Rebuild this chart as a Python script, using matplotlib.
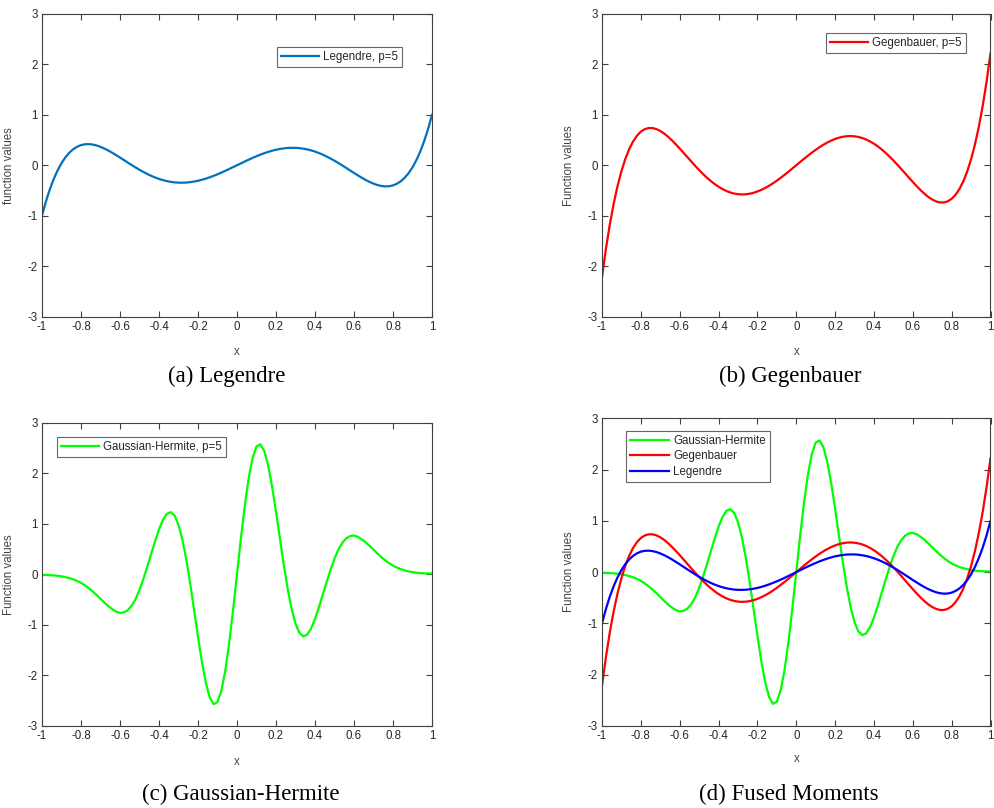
import numpy as np
import matplotlib
matplotlib.use("Agg")
import matplotlib.pyplot as plt

# ---------------- data ----------------
x_values = np.round(np.linspace(-1.0, 1.0, 101), 2)

legendre = [
    -1.0, -0.720, -0.480, -0.274, -0.102, 0.041, 0.157, 0.248, 0.318, 0.367,
    0.400, 0.416, 0.419, 0.411, 0.392, 0.365, 0.331, 0.292, 0.248, 0.201,
    0.153, 0.103, 0.053, 0.004, -0.044, -0.090, -0.133, -0.173, -0.210, -0.242,
    -0.271, -0.295, -0.314, -0.329, -0.340, -0.345, -0.346, -0.343, -0.335, -0.323,
    -0.308, -0.288, -0.265, -0.239, -0.210, -0.179, -0.146, -0.111, -0.074, -0.037,
    0.0,
    0.037, 0.074, 0.111, 0.146, 0.179, 0.210, 0.239, 0.265, 0.288, 0.308,
    0.323, 0.335, 0.343, 0.346, 0.345, 0.340, 0.329, 0.314, 0.295, 0.271,
    0.242, 0.210, 0.173, 0.133, 0.090, 0.044, -0.004, -0.053, -0.103, -0.153,
    -0.201, -0.248, -0.292, -0.331, -0.365, -0.392, -0.411, -0.419, -0.416, -0.400,
    -0.367, -0.318, -0.248, -0.157, -0.041, 0.102, 0.274, 0.480, 0.720, 1.0,
]

gegenbauer = [
    -2.220, -1.663, -1.179, -0.765, -0.413, -0.118, 0.125, 0.320, 0.472, 0.586,
    0.666, 0.715, 0.738, 0.738, 0.717, 0.680, 0.629, 0.566, 0.494, 0.415,
    0.332, 0.246, 0.159, 0.072, -0.013, -0.095, -0.173, -0.246, -0.313, -0.373,
    -0.427, -0.472, -0.510, -0.540, -0.561, -0.574, -0.579, -0.576, -0.565, -0.547,
    -0.521, -0.489, -0.451, -0.408, -0.359, -0.306, -0.249, -0.190, -0.128, -0.064,
    0.0,
    0.064, 0.128, 0.190, 0.249, 0.306, 0.359, 0.408, 0.451, 0.489, 0.521,
    0.547, 0.565, 0.576, 0.579, 0.574, 0.561, 0.540, 0.510, 0.472, 0.427,
    0.373, 0.313, 0.246, 0.173, 0.095, 0.013, -0.072, -0.159, -0.246, -0.332,
    -0.415, -0.494, -0.566, -0.629, -0.680, -0.717, -0.738, -0.738, -0.715, -0.666,
    -0.586, -0.472, -0.320, -0.125, 0.118, 0.413, 0.765, 1.179, 1.663, 2.220,
]

gaussian_hermite = [
    -0.016, -0.015, -0.018, -0.022, -0.030, -0.041, -0.057, -0.076, -0.101, -0.132,
    -0.169, -0.220, -0.275, -0.340, -0.410, -0.485, -0.560, -0.630, -0.690, -0.740,
    -0.765, -0.755, -0.710, -0.620, -0.490, -0.310, -0.090, 0.150, 0.402, 0.654,
    0.885, 1.073, 1.194, 1.228, 1.158, 0.977, 0.683, 0.289, -0.185, -0.707,
    -1.237, -1.731, -2.144, -2.434, -2.569, -2.526, -2.300, -1.902, -1.358, -0.707,
    0.0,
    0.707, 1.358, 1.902, 2.300, 2.526, 2.569, 2.434, 2.144, 1.731, 1.237,
    0.707, 0.185, -0.289, -0.683, -0.977, -1.158, -1.228, -1.194, -1.073, -0.885,
    -0.654, -0.402, -0.150, 0.090, 0.310, 0.490, 0.620, 0.710, 0.755, 0.765,
    0.740, 0.690, 0.630, 0.560, 0.485, 0.410, 0.340, 0.275, 0.220, 0.169,
    0.132, 0.101, 0.076, 0.057, 0.041, 0.030, 0.022, 0.018, 0.015, 0.016,
]

x_ticks = [-1, -0.8, -0.6, -0.4, -0.2, 0, 0.2, 0.4, 0.6, 0.8, 1]
x_tick_labels = ["-1", "-0.8", "-0.6", "-0.4", "-0.2", "0", "0.2", "0.4", "0.6", "0.8", "1"]
y_ticks = [-3, -2, -1, 0, 1, 2, 3]
y_tick_labels = ["-3", "-2", "-1", "0", "1", "2", "3"]

captions = ["(a) Legendre", "(b) Gegenbauer", "(c) Gaussian-Hermite", "(d) Fused Moments"]

# ---------------- figure ----------------
W, H = 994, 808
plt.rcParams['font.family'] = ['Liberation Sans', 'DejaVu Sans']
fig = plt.figure(figsize=(W / 100, H / 100), dpi=100)

AX_COL = '#404040'
TXT_COL = '#262626'
TICK_FS = 8.3


def px_axes(left, top, right, bottom):
    return fig.add_axes([left / W, 1 - bottom / H, (right - left) / W, (bottom - top) / H])


def style(ax, ylabel):
    ax.set_xlim(-1, 1)
    ax.set_ylim(-3, 3)
    ax.set_xticks(x_ticks)
    ax.set_xticklabels(x_tick_labels)
    ax.set_yticks(y_ticks)
    ax.set_yticklabels(y_tick_labels)
    ax.tick_params(direction='in', length=4, width=0.8, color=AX_COL,
                   labelsize=TICK_FS, labelcolor=TXT_COL, top=True, right=True, pad=3)
    for s in ax.spines.values():
        s.set_color(AX_COL)
        s.set_linewidth(0.8)
    ax.set_xlabel('x', fontsize=TICK_FS, color='#444444')
    ax.xaxis.set_label_coords(0.5, -0.098)
    ax.set_ylabel(ylabel, fontsize=TICK_FS, color='#444444')
    ax.yaxis.set_label_coords(-0.069, 0.5)


def add_legend(ax, left, top, handlelength=3.0):
    leg = ax.legend(loc='upper left',
                    bbox_to_anchor=(left / W, 1 - top / H),
                    bbox_transform=fig.transFigure,
                    fontsize=TICK_FS, frameon=True, fancybox=False,
                    handlelength=handlelength, handletextpad=0.35, borderpad=0.35,
                    labelspacing=0.3, borderaxespad=0.0)
    fr = leg.get_frame()
    fr.set_edgecolor(AX_COL)
    fr.set_linewidth(0.8)
    for t in leg.get_texts():
        t.set_color(TXT_COL)
    return leg


LW = 1.6

# (a) Legendre
ax_a = px_axes(42, 14, 432, 316.5)
ax_a.plot(x_values, legendre, color='#0072BD', lw=LW, label='Legendre, p=5')
style(ax_a, 'function values')
add_legend(ax_a, 277, 47, 3.3)

# (b) Gegenbauer
ax_b = px_axes(602, 14, 990.5, 316.5)
ax_b.plot(x_values, gegenbauer, color='#FF0000', lw=LW, label='Gegenbauer, p=5')
style(ax_b, 'Function values')
add_legend(ax_b, 826, 33, 3.3)

# (c) Gaussian-Hermite
ax_c = px_axes(42, 422.5, 432, 726)
ax_c.plot(x_values, gaussian_hermite, color='#00FF00', lw=LW, label='Gaussian-Hermite, p=5')
style(ax_c, 'Function values')
add_legend(ax_c, 57, 437, 3.3)

# (d) Fused
ax_d = px_axes(602, 418.3, 990.5, 726)
ax_d.plot(x_values, gaussian_hermite, color='#00FF00', lw=LW, label='Gaussian-Hermite')
ax_d.plot(x_values, gegenbauer, color='#FF0000', lw=LW, label='Gegenbauer')
ax_d.plot(x_values, legendre, color='#0000FF', lw=LW, label='Legendre')
style(ax_d, 'Function values')
ax_d.xaxis.set_label_coords(0.5, -0.088)
add_legend(ax_d, 626, 431, 3.4)

cap_pos = [(227, 376), (790, 376), (241, 794), (789, 794)]
for txt, (cx, cy) in zip(captions, cap_pos):
    fig.text(cx / W, 1 - cy / H, txt, ha='center', va='center',
             fontsize=16.5, family=['Liberation Serif', 'DejaVu Serif'], color='black')

fig.savefig('out.png', dpi=100)
